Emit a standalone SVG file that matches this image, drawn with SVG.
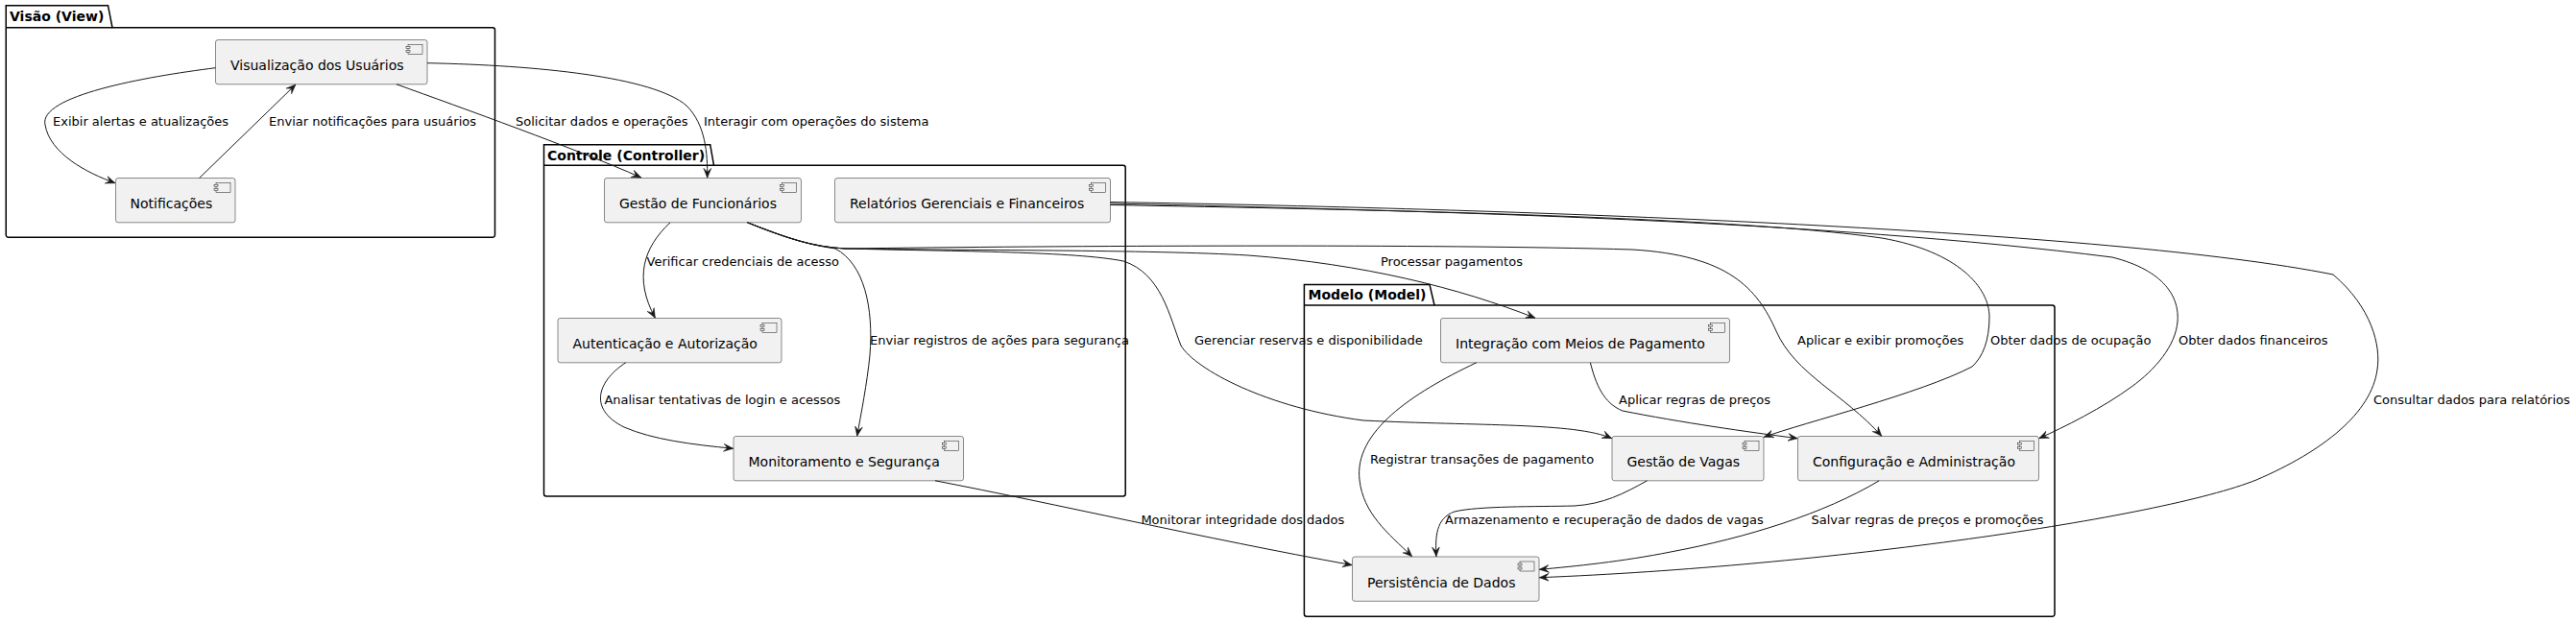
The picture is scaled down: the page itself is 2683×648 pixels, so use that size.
<svg xmlns="http://www.w3.org/2000/svg" width="2683" height="648" viewBox="0 0 2683 648">
<style>
.pkg{fill:none;stroke:#000;stroke-width:1.5}
.ptitle{font-family:"DejaVu Sans",sans-serif;font-size:14px;font-weight:bold;fill:#000}
.comp{fill:#F1F1F1;stroke:#181818;stroke-width:0.5}
.ctext{font-family:"DejaVu Sans",sans-serif;font-size:14px;fill:#000}
.lbl{font-family:"DejaVu Sans",sans-serif;font-size:13px;fill:#000}
.edge{fill:none;stroke:#181818;stroke-width:1;marker-end:url(#arr)}
</style>
<defs>
<marker id="arr" viewBox="0 0 10 10" refX="10" refY="5" markerWidth="10" markerHeight="10" markerUnits="userSpaceOnUse" orient="auto">
<path d="M10,5 L0,1 L4,5 L0,9 Z" fill="#181818" stroke="#181818" stroke-width="0.5"/>
</marker>
<g id="icon">
<rect x="-20" y="5" width="15" height="10" class="comp"/>
<rect x="-22" y="7" width="4" height="2" class="comp"/>
<rect x="-22" y="11" width="4" height="2" class="comp"/>
</g>
</defs>
<rect width="2683" height="648" fill="#FFFFFF"/>

<g id="pkg-visao">
<path class="pkg" d="M6.25,5.7 L112.5,5.7 L117,28.7 L513,28.7 A2.5,2.5 0 0 1 515.5,31.2 L515.5,244.8 A2.5,2.5 0 0 1 513,247.3 L8.75,247.3 A2.5,2.5 0 0 1 6.25,244.8 Z"/>
<path class="pkg" d="M6.25,28.7 L117,28.7"/>
<text class="ptitle" x="10" y="21.5">Visão (View)</text>
</g>
<g id="pkg-controle">
<path class="pkg" d="M566.5,150.7 L739.7,150.7 L743.5,172.3 L1169.7,172.3 A2.5,2.5 0 0 1 1172.2,174.8 L1172.2,514.5 A2.5,2.5 0 0 1 1169.7,517 L569,517 A2.5,2.5 0 0 1 566.5,514.5 Z"/>
<path class="pkg" d="M566.5,172.3 L743.5,172.3"/>
<text class="ptitle" x="570" y="166.5">Controle (Controller)</text>
</g>
<g id="pkg-modelo">
<path class="pkg" d="M1358.4,296.5 L1489,296.5 L1494,318 L2137.5,318 A2.5,2.5 0 0 1 2140,320.5 L2140,639.8 A2.5,2.5 0 0 1 2137.5,642.3 L1360.9,642.3 A2.5,2.5 0 0 1 1358.4,639.8 Z"/>
<path class="pkg" d="M1358.4,318 L1494,318"/>
<text class="ptitle" x="1362.5" y="312.3">Modelo (Model)</text>
</g>

<g id="node-vis">
<rect class="comp" x="224.5" y="41.5" width="220.5" height="46.3" rx="2.5"/>
<use href="#icon" x="445" y="41.5"/>
<text class="ctext" x="240" y="73">Visualização dos Usuários</text>
</g>
<g id="node-notif">
<rect class="comp" x="120.5" y="185.5" width="124.5" height="46.3" rx="2.5"/>
<use href="#icon" x="245" y="185.5"/>
<text class="ctext" x="135.5" y="217">Notificações</text>
</g>
<g id="node-gf">
<rect class="comp" x="629.5" y="185.5" width="205" height="46.3" rx="2.5"/>
<use href="#icon" x="834.5" y="185.5"/>
<text class="ctext" x="645" y="217">Gestão de Funcionários</text>
</g>
<g id="node-rel">
<rect class="comp" x="869.5" y="185.5" width="287" height="46.3" rx="2.5"/>
<use href="#icon" x="1156.5" y="185.5"/>
<text class="ctext" x="885" y="217">Relatórios Gerenciais e Financeiros</text>
</g>
<g id="node-auth">
<rect class="comp" x="581" y="331.5" width="233" height="46.3" rx="2.5"/>
<use href="#icon" x="814" y="331.5"/>
<text class="ctext" x="596.5" y="363">Autenticação e Autorização</text>
</g>
<g id="node-monit">
<rect class="comp" x="764" y="454.5" width="239.5" height="46.3" rx="2.5"/>
<use href="#icon" x="1003.5" y="454.5"/>
<text class="ctext" x="779.5" y="486">Monitoramento e Segurança</text>
</g>
<g id="node-integ">
<rect class="comp" x="1500.5" y="331.5" width="301" height="46.3" rx="2.5"/>
<use href="#icon" x="1801.5" y="331.5"/>
<text class="ctext" x="1516" y="363">Integração com Meios de Pagamento</text>
</g>
<g id="node-vagas">
<rect class="comp" x="1679" y="454.5" width="158" height="46.3" rx="2.5"/>
<use href="#icon" x="1837" y="454.5"/>
<text class="ctext" x="1694.5" y="486">Gestão de Vagas</text>
</g>
<g id="node-config">
<rect class="comp" x="1872.5" y="454.5" width="251" height="46.3" rx="2.5"/>
<use href="#icon" x="2123.5" y="454.5"/>
<text class="ctext" x="1888" y="486">Configuração e Administração</text>
</g>
<g id="node-persist">
<rect class="comp" x="1408.5" y="580" width="194.5" height="46.3" rx="2.5"/>
<use href="#icon" x="1603" y="580"/>
<text class="ctext" x="1424" y="611.5">Persistência de Dados</text>
</g>

<g id="connectors">
<path class="edge" d="M224.5,70.7 C150,80 40,100 47,130 C52,160 90,180 120,190.7"/>
<path class="edge" d="M207.6,185.5 L308,88"/>
<path class="edge" d="M413,87.8 C480,112 600,155 667.8,185"/>
<path class="edge" d="M445,65.7 C560,68 680,80 715,110 C735,130 737,160 736.7,185.3"/>
<path class="edge" d="M698,231.8 C670,258 660,290 682.4,331.3"/>
<path class="edge" d="M778.4,231.8 C810,245 840,255 870,259 C900,275 910,320 906,370 C903,400 897,430 892.7,454.3"/>
<path class="edge" d="M651.8,377.8 C625,395 610,425 650,445 C680,458 720,463 763.7,467.3"/>
<path class="edge" d="M778.4,231.8 C820,248 845,257 880,259 C1000,262 1120,262 1170,272 C1210,285 1218,330 1230,360 C1245,385 1320,425 1420,438 C1540,444 1640,440 1678.8,456.7"/>
<path class="edge" d="M778.4,231.8 C820,248 845,257 880,259 C1000,261 1200,260 1300,266 C1420,275 1520,300 1599,331.3"/>
<path class="edge" d="M778.4,231.8 C820,248 845,257 880,259 C1100,256 1500,254 1700,260 C1800,266 1830,300 1850,345 C1870,390 1920,410 1959.8,454.3"/>
<path class="edge" d="M1156.5,213.5 C1400,218 1800,225 1960,248 C2040,262 2072,300 2072,330 C2072,355 2065,372 2054,382 C2000,410 1880,440 1837.2,455.3"/>
<path class="edge" d="M1156.5,212 C1500,220 1900,230 2200,268 C2255,282 2270,310 2268,335 C2266,360 2245,385 2220,403 C2190,425 2150,445 2123.7,456.7"/>
<path class="edge" d="M1156.5,210.5 C1600,218 2200,240 2430,286 C2470,320 2480,360 2476,385 C2470,430 2420,470 2350,500 C2250,540 1900,590 1603.3,601.7"/>
<path class="edge" d="M974,500.8 C1100,525 1250,560 1408.2,588.7"/>
<path class="edge" d="M1537.7,377.8 C1470,410 1410,450 1416,500 C1420,535 1445,555 1470.8,579.8"/>
<path class="edge" d="M1656.4,377.8 C1662,400 1670,420 1690,428 C1750,440 1820,450 1872.3,456.7"/>
<path class="edge" d="M1715.5,500.8 C1690,515 1670,525 1640,527 C1600,528 1540,527 1515,533 C1495,540 1495,560 1495.9,579.8"/>
<path class="edge" d="M1957.2,500.8 C1900,535 1820,560 1740,575 C1690,585 1640,590 1603.3,593.3"/>
</g>

<g id="labels">
<text class="lbl" x="55" y="130.5">Exibir alertas e atualizações</text>
<text class="lbl" x="280" y="130.5">Enviar notificações para usuários</text>
<text class="lbl" x="537" y="130.5">Solicitar dados e operações</text>
<text class="lbl" x="733" y="130.5">Interagir com operações do sistema</text>
<text class="lbl" x="673.5" y="277">Verificar credenciais de acesso</text>
<text class="lbl" x="906" y="359.3">Enviar registros de ações para segurança</text>
<text class="lbl" x="629.4" y="421">Analisar tentativas de login e acessos</text>
<text class="lbl" x="1244" y="358.7">Gerenciar reservas e disponibilidade</text>
<text class="lbl" x="1438" y="277">Processar pagamentos</text>
<text class="lbl" x="1872" y="358.7">Aplicar e exibir promoções</text>
<text class="lbl" x="2073" y="358.7">Obter dados de ocupação</text>
<text class="lbl" x="2269" y="358.7">Obter dados financeiros</text>
<text class="lbl" x="2472" y="421">Consultar dados para relatórios</text>
<text class="lbl" x="1188.4" y="546">Monitorar integridade dos dados</text>
<text class="lbl" x="1427" y="483">Registrar transações de pagamento</text>
<text class="lbl" x="1686" y="421">Aplicar regras de preços</text>
<text class="lbl" x="1505" y="546">Armazenamento e recuperação de dados de vagas</text>
<text class="lbl" x="1886.5" y="546">Salvar regras de preços e promoções</text>
</g>
</svg>
